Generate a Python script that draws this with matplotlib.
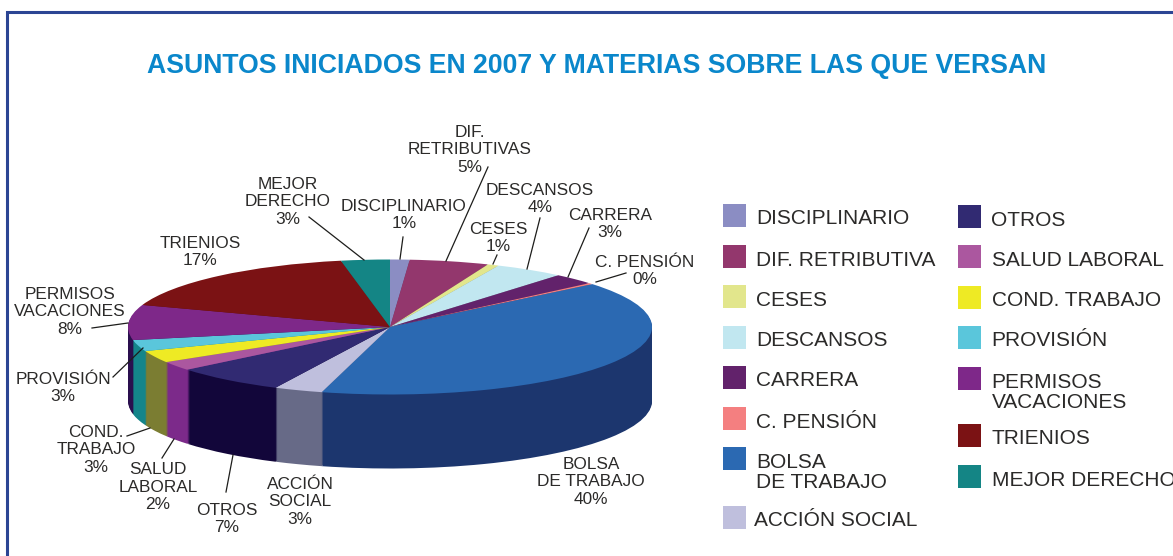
import numpy as np
import matplotlib
matplotlib.use('Agg')
import matplotlib.pyplot as plt
from matplotlib.patches import Rectangle

plt.rcParams['font.family'] = ['Liberation Sans', 'DejaVu Sans']

title = 'ASUNTOS INICIADOS EN 2007 Y MATERIAS SOBRE LAS QUE VERSAN'

# shares, clockwise from 12 o'clock
categories = ['DISCIPLINARIO', 'DIF. RETRIBUTIVA', 'CESES', 'DESCANSOS', 'CARRERA', 'C. PENSIÓN',
              'BOLSA\nDE TRABAJO', 'ACCIÓN SOCIAL', 'OTROS', 'SALUD LABORAL', 'COND. TRABAJO',
              'PROVISIÓN', 'PERMISOS\nVACACIONES', 'TRIENIOS', 'MEJOR DERECHO']
shares = [1.2, 4.9, 0.7, 4.3, 2.65, 0.3, 40.15, 3.0, 6.9, 2.2, 2.9, 2.7, 8.4, 16.7, 3.0]
top_colors = ['#8b8dc3', '#93376d', '#e2e68c', '#c1e7f0', '#62226b', '#f47f80', '#2b69b2', '#bfbfdd',
              '#312a72', '#ab579f', '#eeea24', '#5ac6db', '#7e2889', '#7b1214', '#148585']
side_colors = ['#5f6088', '#66264c', '#9da062', '#87a2a8', '#45184b', '#aa5859', '#1c366e', '#676a87',
               '#12063a', '#7c2a8a', '#7b7d32', '#14858a', '#2a0f4e', '#560d0e', '#0e5d5d']

# text around the pie: label, centre x, centre y (pixels)
pie_labels = [('DIF.\nRETRIBUTIVAS\n5%', 470, 149), ('MEJOR\nDERECHO\n3%', 288, 201),
              ('DISCIPLINARIO\n1%', 404, 214), ('TRIENIOS\n17%', 200, 251),
              ('DESCANSOS\n4%', 540, 198), ('CESES\n1%', 498, 237), ('CARRERA\n3%', 610, 223),
              ('C. PENSIÓN\n0%', 645, 270), ('PERMISOS\nVACACIONES\n8%', 70, 311),
              ('PROVISIÓN\n3%', 63, 387), ('COND.\nTRABAJO\n3%', 96, 449),
              ('SALUD\nLABORAL\n2%', 158, 486), ('OTROS\n7%', 227, 518),
              ('ACCIÓN\nSOCIAL\n3%', 300, 501), ('BOLSA\nDE TRABAJO\n40%', 591, 481)]
leaders = [((92, 328), (128, 323)), ((113, 377), (143, 348)), ((127, 436), (150, 428)),
           ((162, 458), (174, 439)), ((226, 492), (233, 455)), ((403, 237), (400, 259)),
           ((488, 167), (446, 261)), ((497, 255), (493, 264)), ((540, 218), (527, 269)),
           ((589, 228), (568, 277)), ((626, 273), (596, 282)), ((309, 217), (364, 260))]

# legend rows: category index, square x, square top y, text x
legend_rows = [(0, 723, 204, 756), (1, 723, 245, 756), (2, 723, 285, 756), (3, 723, 326, 756),
               (4, 723, 366, 756), (5, 723, 407, 756), (6, 723, 447, 756), (7, 723, 506, 753.5),
               (8, 958, 205, 991.5), (9, 958, 245, 991.5), (10, 958, 286, 991.5), (11, 958, 326, 991.5),
               (12, 958, 367, 991.5), (13, 958, 424, 991.5), (14, 958, 465, 991.5)]

W, H = 1173, 556
cx, cy, rx, ry, depth = 390, 327, 262, 67.5, 74
text_color = '#2b2a29'

fig = plt.figure(figsize=(W / 100, H / 100), dpi=100)

## Pie: one unit is rx pixels across and ry pixels down, so the circle comes out flat
pie_ax = fig.add_axes([0, 0, 1, 1])

# wall first, stacked from the bottom up, then the top face
for d in np.arange(depth, 0, -1.0):
    pie_ax.pie(shares, colors=side_colors, startangle=90, counterclock=False,
               center=(0, -d / ry), wedgeprops={'linewidth': 0})
pie_ax.pie(shares, colors=top_colors, startangle=90, counterclock=False,
           wedgeprops={'linewidth': 0})
pie_ax.set_aspect('auto')
pie_ax.set_xlim(-cx / rx, (W - cx) / rx)
pie_ax.set_ylim(-(H - cy) / ry, cy / ry)

## Everything else goes on an overlay measured in pixels
ax = fig.add_axes([0, 0, 1, 1])
ax.set_xlim(0, W)
ax.set_ylim(H, 0)
ax.axis('off')

# frame
ax.plot([7, 7, W], [H, 12, 12], color='#2c4594', lw=2.2, solid_joinstyle='miter')

ax.text(597, 66, title, color='#0a87cb', fontsize=19.2, fontweight='bold', ha='center', va='center')

for label, x, y in pie_labels:
    ax.text(x, y + 1, label, color=text_color, fontsize=12.4, ha='center', va='center', linespacing=1.2)

for start, end in leaders:
    ax.plot([start[0], end[0]], [start[1], end[1]], color='#1d1d1b', lw=0.9)

for i, x, y, text_x in legend_rows:
    ax.add_patch(Rectangle((x, y), 23, 23, facecolor=top_colors[i], edgecolor='none'))
    if '\n' in categories[i]:
        text_y = y + 25.5
    else:
        text_y = y + 15
    ax.text(text_x, text_y, categories[i], color=text_color, fontsize=15, ha='left', va='center',
            linespacing=1.1)

fig.savefig('out.png', dpi=100)
